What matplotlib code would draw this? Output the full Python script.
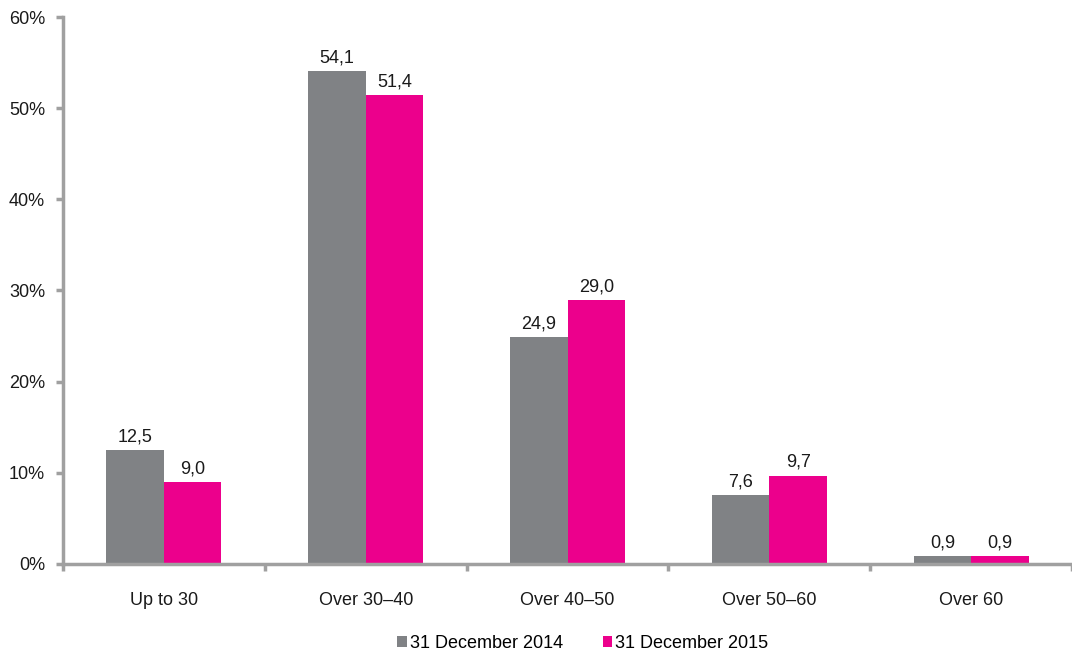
import numpy as np
import matplotlib.pyplot as plt
from matplotlib.ticker import FixedLocator, FuncFormatter

plt.rcParams['font.family'] = ['Liberation Sans', 'DejaVu Sans']

categories = ['Up to 30', 'Over 30–40', 'Over 40–50', 'Over 50–60', 'Over 60']
dec_2014 = [12.5, 54.1, 24.9, 7.6, 0.9]
dec_2015 = [9.0, 51.4, 29.0, 9.7, 0.9]
series_labels = ['31 December 2014', '31 December 2015']

grey = '#808285'
pink = '#EC008C'
axis_color = '#A0A0A0'
w = 0.285
fs = 13

fig = plt.figure(figsize=(10.72, 6.55), dpi=100)
ax = fig.add_axes([0.0588, 0.139, 0.9412, 0.835])

x = np.arange(len(categories))
b1 = ax.bar(x - w, dec_2014, width=w, align='edge', color=grey, label=series_labels[0])
b2 = ax.bar(x, dec_2015, width=w, align='edge', color=pink, label=series_labels[1])

for bars, vals in ((b1, dec_2014), (b2, dec_2015)):
    for rect, v in zip(bars, vals):
        ax.text(rect.get_x() + rect.get_width() / 2, v + 0.5, f'{v:.1f}'.replace('.', ','),
                ha='center', va='bottom', fontsize=fs, color='#1a1a1a')

ax.set_xlim(-0.5, len(categories) - 0.5)
ax.set_ylim(0, 60)
ax.set_yticks(np.arange(0, 61, 10))
ax.yaxis.set_major_formatter(FuncFormatter(lambda v, p: f'{v:.0f}%'))

ax.set_xticks(x)
ax.set_xticklabels(categories)
ax.xaxis.set_minor_locator(FixedLocator(np.arange(-0.5, len(categories), 1.0)))
ax.tick_params(axis='x', which='major', length=0, pad=20, labelsize=fs, colors='#1a1a1a')
ax.tick_params(axis='x', which='minor', length=5, width=2.5, color=axis_color)
ax.tick_params(axis='y', length=5, width=2.5, color=axis_color, labelsize=fs, labelcolor='#1a1a1a', pad=8)

for side in ('top', 'right'):
    ax.spines[side].set_visible(False)
for side in ('left', 'bottom'):
    ax.spines[side].set_color(axis_color)
    ax.spines[side].set_linewidth(2.5)

ax.legend(loc='upper center', bbox_to_anchor=(0.515, -0.1), ncol=2, frameon=False,
          fontsize=fs, handlelength=0.55, handleheight=0.55, handletextpad=0.15,
          columnspacing=2.2)

fig.savefig('out.png', dpi=100)
